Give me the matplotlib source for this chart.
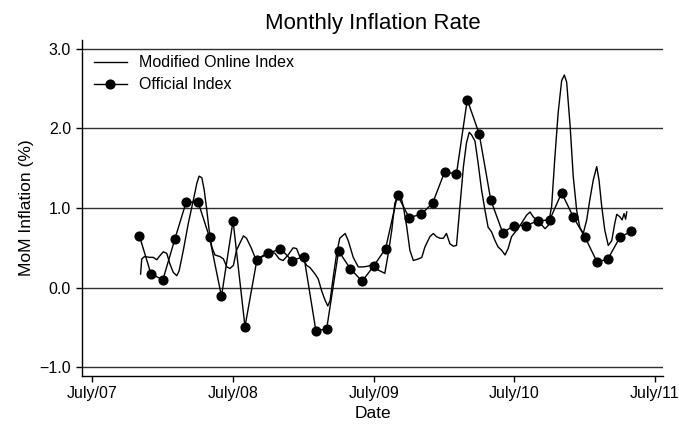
import pandas as pd
import matplotlib.pyplot as plt
import matplotlib.dates as mdates

plt.rcParams['font.family'] = ['Liberation Sans', 'DejaVu Sans']

# official index, monthly (Nov 2007 - May 2011)
official_months = pd.date_range("2007-11-01", "2011-05-01", freq="MS")
official_vals = [0.65, 0.17,
                 0.10, 0.61, 1.07, 1.08, 0.63, -0.11, 0.84, -0.49, 0.35, 0.43, 0.49, 0.34,
                 0.39, -0.54, -0.52, 0.46, 0.24, 0.08, 0.27, 0.49, 1.16, 0.88, 0.92, 1.06,
                 1.45, 1.43, 2.36, 1.93, 1.10, 0.69, 0.78, 0.78, 0.84, 0.85, 1.19, 0.89,
                 0.63, 0.32, 0.36, 0.63, 0.71]

# modified online index
online_dates = [
    "2007-11-04", "2007-11-07", "2007-11-14", "2007-11-28", "2007-12-07", "2007-12-16",
    "2007-12-24", "2008-01-02", "2008-01-11", "2008-01-19", "2008-01-28", "2008-02-06",
    "2008-02-12", "2008-02-23", "2008-03-07", "2008-03-20", "2008-03-29", "2008-04-04",
    "2008-04-11", "2008-04-17", "2008-04-24", "2008-04-30", "2008-05-07", "2008-05-15",
    "2008-05-28", "2008-06-06", "2008-06-15", "2008-06-23", "2008-07-02", "2008-07-10",
    "2008-07-19", "2008-07-28", "2008-08-05", "2008-08-18", "2008-08-27", "2008-09-09",
    "2008-09-26", "2008-10-09", "2008-10-18", "2008-10-29", "2008-11-08", "2008-11-21",
    "2008-12-04", "2008-12-13", "2008-12-22", "2008-12-30", "2009-01-08", "2009-01-17",
    "2009-01-30", "2009-02-07", "2009-02-16", "2009-02-25", "2009-03-04", "2009-03-10",
    "2009-03-18", "2009-03-27", "2009-04-04", "2009-04-18", "2009-04-26", "2009-05-09",
    "2009-05-22", "2009-06-04", "2009-06-17", "2009-06-30", "2009-07-13", "2009-07-30",
    "2009-08-08", "2009-08-17", "2009-08-25", "2009-09-03", "2009-09-10", "2009-09-16",
    "2009-09-25", "2009-10-03", "2009-10-12", "2009-10-25", "2009-11-03", "2009-11-11",
    "2009-11-24", "2009-12-03", "2009-12-11", "2009-12-20", "2009-12-29", "2010-01-06",
    "2010-01-15", "2010-01-24", "2010-02-01", "2010-02-10", "2010-02-19", "2010-02-27",
    "2010-03-06", "2010-03-12", "2010-03-21", "2010-03-29", "2010-04-07", "2010-04-16",
    "2010-04-24", "2010-05-03", "2010-05-12", "2010-05-20", "2010-05-29", "2010-06-07",
    "2010-06-15", "2010-06-24", "2010-07-07", "2010-07-20", "2010-08-02", "2010-08-11",
    "2010-08-19", "2010-08-28", "2010-09-06", "2010-09-19", "2010-09-27", "2010-10-06",
    "2010-10-14", "2010-10-23", "2010-11-01", "2010-11-08", "2010-11-14", "2010-11-23",
    "2010-12-01", "2010-12-10", "2010-12-18", "2010-12-27", "2011-01-05", "2011-01-13",
    "2011-01-22", "2011-01-31", "2011-02-06", "2011-02-13", "2011-02-21", "2011-03-02",
    "2011-03-11", "2011-03-19", "2011-03-24", "2011-04-01", "2011-04-07", "2011-04-12",
    "2011-04-16", "2011-04-19"]
online_vals = [
    0.17, 0.36, 0.39, 0.38, 0.38, 0.35,
    0.40, 0.45, 0.43, 0.30, 0.19, 0.15,
    0.21, 0.47, 0.81, 1.10, 1.31, 1.40,
    1.38, 1.23, 0.97, 0.72, 0.51, 0.41,
    0.39, 0.36, 0.26, 0.24, 0.28, 0.47,
    0.56, 0.65, 0.62, 0.49, 0.38, 0.38,
    0.43, 0.45, 0.43, 0.36, 0.34, 0.41,
    0.50, 0.49, 0.38, 0.36, 0.28, 0.25,
    0.17, 0.11, -0.04, -0.16, -0.23, -0.16,
    0.13, 0.43, 0.62, 0.68, 0.59, 0.38,
    0.26, 0.26, 0.27, 0.30, 0.22, 0.18,
    0.43, 0.72, 1.06, 1.16, 1.14, 1.02,
    0.76, 0.47, 0.34, 0.36, 0.38, 0.51,
    0.64, 0.68, 0.64, 0.62, 0.62, 0.68,
    0.55, 0.52, 0.53, 1.02, 1.52, 1.82,
    1.95, 1.92, 1.84, 1.57, 1.23, 0.97,
    0.76, 0.70, 0.59, 0.51, 0.47, 0.41,
    0.49, 0.64, 0.72, 0.81, 0.91, 0.95,
    0.89, 0.85, 0.81, 0.74, 0.78, 1.02,
    1.61, 2.20, 2.60, 2.67, 2.58, 2.03,
    1.40, 0.97, 0.76, 0.68, 0.85, 1.10,
    1.35, 1.52, 1.35, 1.02, 0.72, 0.53,
    0.59, 0.81, 0.92, 0.89, 0.85, 0.93,
    0.86, 0.95]

tick_dates = pd.to_datetime(["2007-07-01", "2008-07-01", "2009-07-01", "2010-07-01", "2011-07-01"])
tick_labels = ["July/07", "July/08", "July/09", "July/10", "July/11"]
y_ticks = [-1.0, 0.0, 1.0, 2.0, 3.0]

fig = plt.figure(figsize=(6.79, 4.26), dpi=100)
ax = fig.add_axes([0.1208, 0.1174, 0.8556, 0.7887])

for v in y_ticks:
    ax.axhline(v, color="#303030", lw=1.0, zorder=1)

ax.plot(pd.to_datetime(online_dates), online_vals, color="black", lw=1.0,
        label="Modified Online Index", zorder=3)
ax.plot(official_months, official_vals, color="black", lw=1.0, marker="o",
        markersize=6.3, label="Official Index", zorder=4)

ax.set_xlim(pd.Timestamp("2007-06-05"), pd.Timestamp("2011-07-22"))
ax.set_ylim(-1.11, 3.11)
ax.set_xticks(tick_dates)
ax.set_xticklabels(tick_labels)
ax.set_yticks(y_ticks)
ax.set_yticklabels(["\u22121.0", "0.0", "1.0", "2.0", "3.0"])
ax.tick_params(axis="both", labelsize=11.5, direction="out", width=1, color="black")
ax.tick_params(axis="x", length=4)
ax.tick_params(axis="y", length=4.5)

for s in ["top", "right"]:
    ax.spines[s].set_visible(False)
for s in ["left", "bottom"]:
    ax.spines[s].set_linewidth(1)

ax.set_title("Monthly Inflation Rate", fontsize=16, pad=8)
ax.set_xlabel("Date", fontsize=12.5, labelpad=3)
ax.set_ylabel("MoM Inflation (%)", fontsize=12.5, labelpad=4)

ax.legend(loc="upper left", bbox_to_anchor=(0.02, 0.955), frameon=False, fontsize=11.5,
          borderpad=0, borderaxespad=0, handlelength=2.1, handletextpad=0.75,
          labelspacing=0.45)

fig.savefig("out.png", dpi=100)
